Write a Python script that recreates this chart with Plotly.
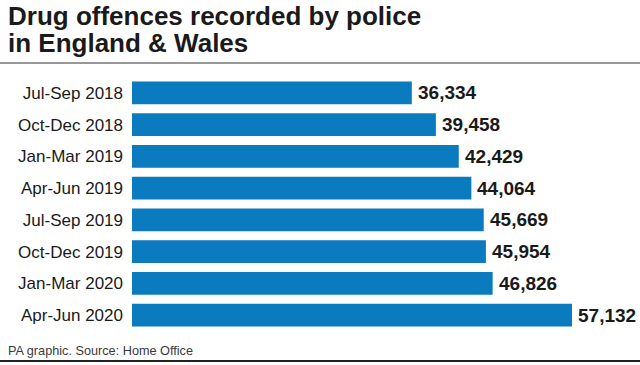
import plotly.graph_objects as go

categories = ["Jul-Sep 2018", "Oct-Dec 2018", "Jan-Mar 2019", "Apr-Jun 2019",
              "Jul-Sep 2019", "Oct-Dec 2019", "Jan-Mar 2020", "Apr-Jun 2020"]
values = [36334, 39458, 42429, 44064, 45669, 45954, 46826, 57132]
value_labels = [f"{v:,}" for v in values]

title_line1 = "Drug offences recorded by police"
title_line2 = "in England & Wales"
footer = "PA graphic. Source: Home Office"

W, H = 640, 365
L, R, T, B = 132, 0, 77, 34
PW, PH = W - L - R, H - T - B

def px(x):
    return (x - L) / PW

def py(y):
    return (H - B - y) / PH

FONT = "Liberation Sans"
BAR = "#0b7bc0"
TXT = "#1a1a1a"

fig = go.Figure()
fig.add_trace(go.Bar(
    x=values, y=categories, orientation="h",
    marker=dict(color=BAR, line=dict(width=0)),
    hoverinfo="skip",
))

annotations = []
for c, v, lab in zip(categories, values, value_labels):
    annotations.append(dict(
        x=v, y=c, xref="x", yref="y", text=f"<b>{lab}</b>", showarrow=False,
        xanchor="left", yanchor="middle", xshift=4,
        font=dict(family=FONT, size=19, color=TXT),
    ))

annotations.append(dict(x=px(6), y=py(16), xref="paper", yref="paper",
                        text=f"<b>{title_line1}</b>", showarrow=False,
                        xanchor="left", yanchor="middle",
                        font=dict(family=FONT, size=26, color=TXT)))
annotations.append(dict(x=px(6), y=py(43), xref="paper", yref="paper",
                        text=f"<b>{title_line2}</b>", showarrow=False,
                        xanchor="left", yanchor="middle",
                        font=dict(family=FONT, size=26, color=TXT)))
annotations.append(dict(x=px(6), y=py(351), xref="paper", yref="paper",
                        text=footer, showarrow=False,
                        xanchor="left", yanchor="middle",
                        font=dict(family=FONT, size=12.7, color="#3a3a3a")))

shapes = [
    dict(type="line", xref="paper", yref="paper", x0=px(0), x1=px(W),
         y0=py(63), y1=py(63), line=dict(color="#333333", width=1.2)),
    dict(type="line", xref="paper", yref="paper", x0=px(0), x1=px(W),
         y0=py(361), y1=py(361), line=dict(color="#222222", width=2)),
]

fig.update_layout(
    width=W, height=H,
    margin=dict(l=L, r=R, t=T, b=B, pad=0),
    paper_bgcolor="white", plot_bgcolor="white",
    showlegend=False, bargap=0.29,
    xaxis=dict(range=[0, 65960], visible=False, fixedrange=True),
    yaxis=dict(autorange="reversed", showgrid=False, zeroline=False,
               showline=False, ticks="", ticklabelstandoff=8,
               tickfont=dict(family=FONT, size=17, color=TXT), fixedrange=True),
    annotations=annotations, shapes=shapes,
)

fig.write_html("out.html", config={"displayModeBar": False},
               post_script="document.body.style.margin='0';document.body.style.overflow='hidden';")
